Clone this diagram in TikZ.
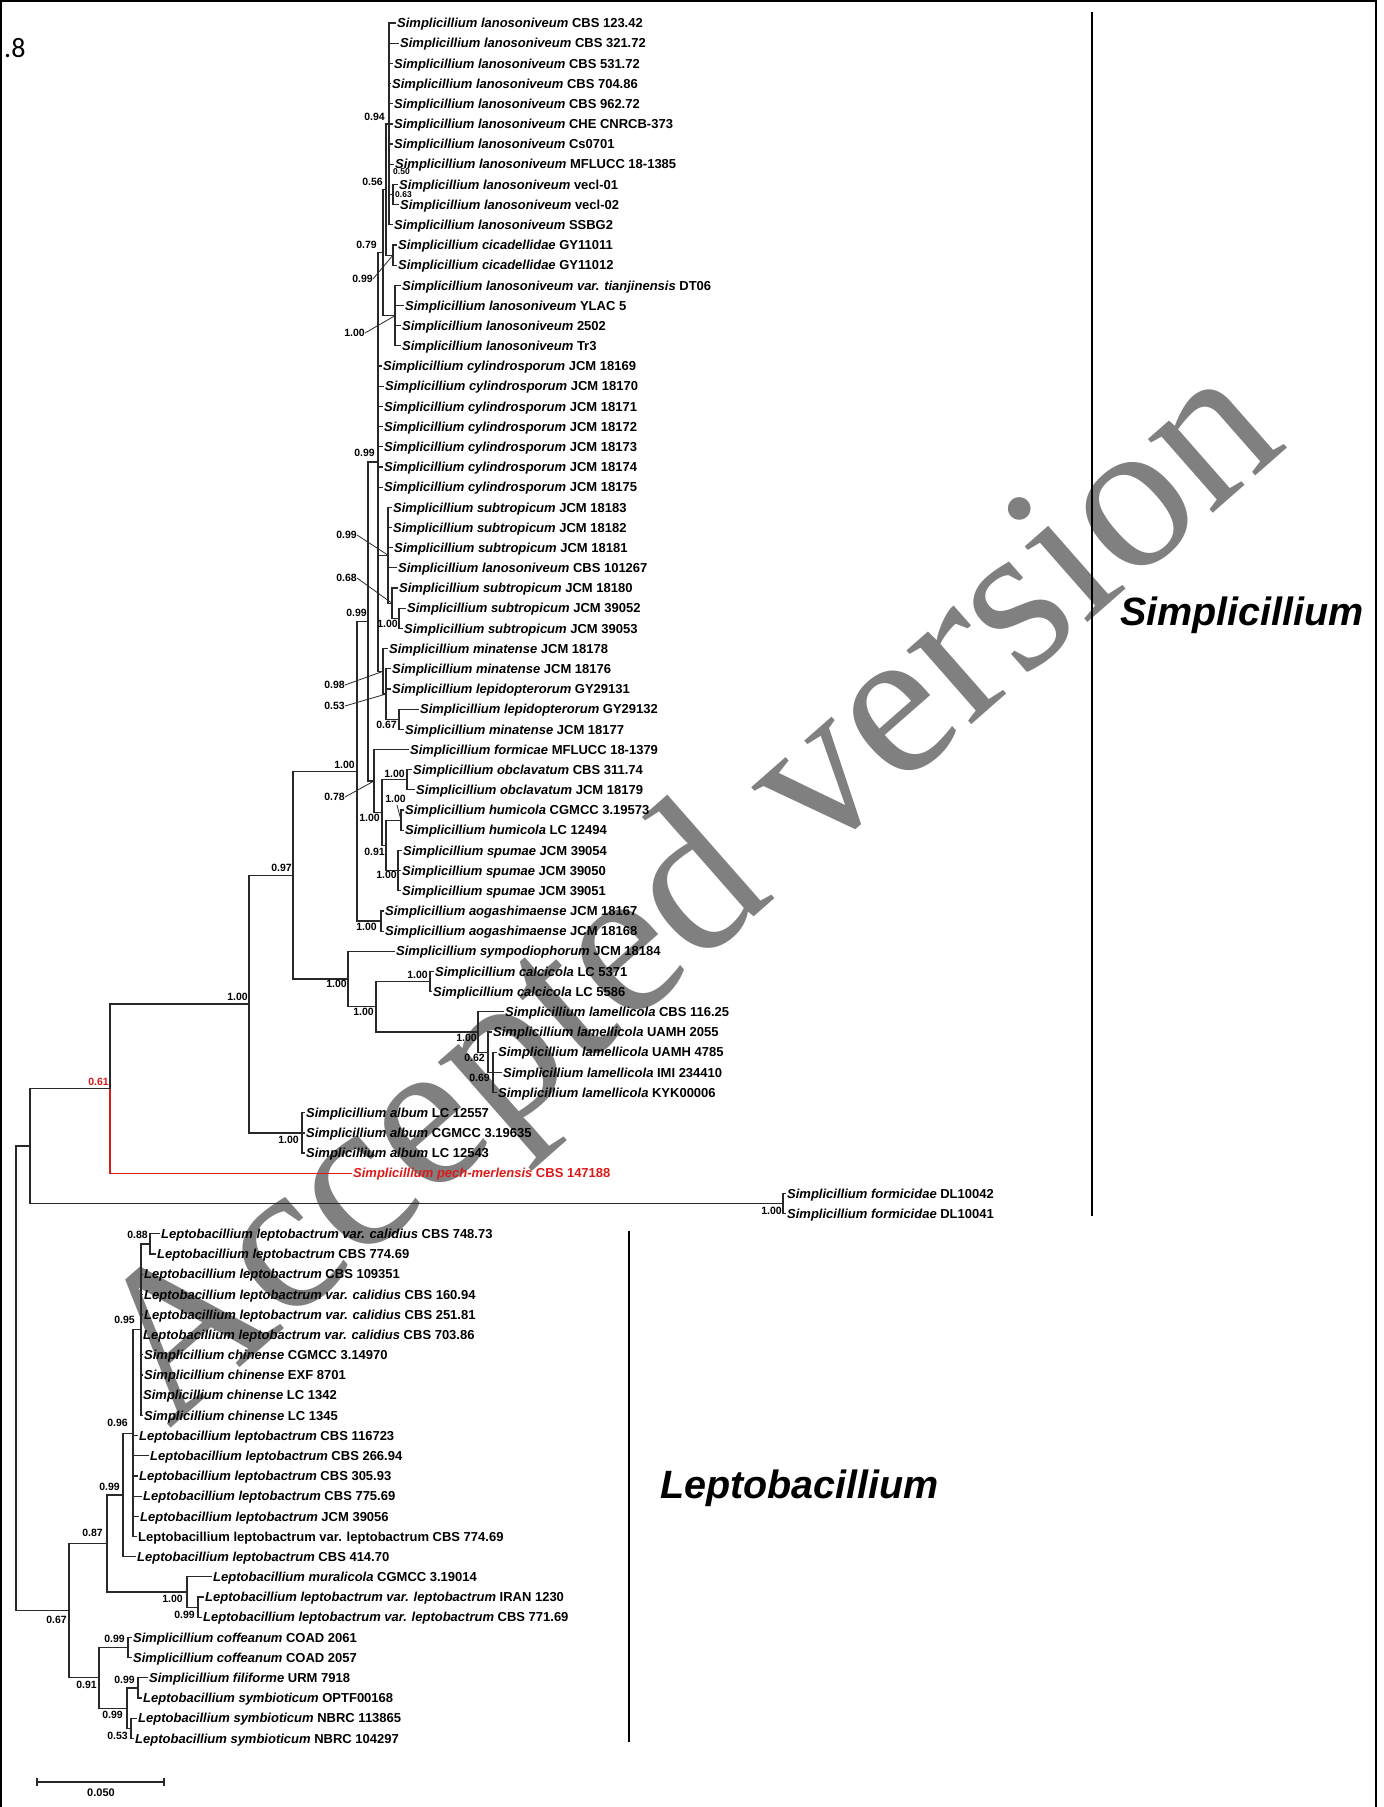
\documentclass[tikz,border=0pt]{standalone}
\usepackage{fontspec}
\setmainfont{Liberation Sans}
\newfontfamily\wmfont{Liberation Serif}
\newfontfamily\calfont{Carlito}
\newcommand{\ry}[1]{2.82+#1*20.18}
\definecolor{brc}{RGB}{40,40,40}
\definecolor{redc}{RGB}{220,25,25}
\begin{document}
\begin{tikzpicture}[x=1pt,y=-1pt,
  br/.style={draw=brc,line width=1.2pt},
  bar/.style={draw=black,line width=2.2pt},
  tip/.style={anchor=west,inner xsep=1.5pt,inner ysep=0pt,text height=9.4pt,text depth=0pt,font=\fontsize{13}{15}\selectfont\bfseries},
  bs/.style={anchor=east,inner sep=0pt,text height=7.6pt,text depth=0pt,font=\fontsize{10.5}{12}\selectfont\bfseries},
  bsl/.style={anchor=west,inner sep=0pt,text height=6pt,text depth=0pt,font=\fontsize{8.5}{10}\selectfont\bfseries},
  ld/.style={draw=brc,line width=0.8pt},
  clade/.style={anchor=west,inner sep=0pt,text height=28.3pt,text depth=0pt,font=\fontsize{39.5}{44}\selectfont\bfseries\itshape}]
\useasboundingbox (0,0) rectangle (1384,1807);
\fill[white] (0,0) rectangle (1384,1807);
% watermark
\node[text=black!50,font=\fontsize{214}{230}\wmfont,rotate=41.3,inner sep=0pt] (wm) at (696,899) {Accepted version};
% frame
\draw[line width=1.8pt] (1,1807) -- (1,1) -- (1376,1) -- (1376,1807);
\node[anchor=west,inner sep=0pt,font=\fontsize{28}{30}\calfont] (fig) at (4,48) {.8};
% ---------- Simplicillium tips ----------
\node[tip] (t1) at (395.5,{\ry{1}}) {\textit{Simplicillium lanosoniveum} CBS 123.42};
\node[tip] (t2) at (398.5,{\ry{2}}) {\textit{Simplicillium lanosoniveum} CBS 321.72};
\node[tip] (t3) at (392.5,{\ry{3}}) {\textit{Simplicillium lanosoniveum} CBS 531.72};
\node[tip] (t4) at (390.5,{\ry{4}}) {\textit{Simplicillium lanosoniveum} CBS 704.86};
\node[tip] (t5) at (392.5,{\ry{5}}) {\textit{Simplicillium lanosoniveum} CBS 962.72};
\node[tip] (t6) at (392.5,{\ry{6}}) {\textit{Simplicillium lanosoniveum} CHE CNRCB-373};
\node[tip] (t7) at (392.5,{\ry{7}}) {\textit{Simplicillium lanosoniveum} Cs0701};
\node[tip] (t8) at (393.5,{\ry{8}}) {\textit{Simplicillium lanosoniveum} MFLUCC 18-1385};
\node[tip] (t9) at (397.5,{\ry{9}}) {\textit{Simplicillium lanosoniveum} vecl-01};
\node[tip] (t10) at (398.5,{\ry{10}}) {\textit{Simplicillium lanosoniveum} vecl-02};
\node[tip] (t11) at (392.5,{\ry{11}}) {\textit{Simplicillium lanosoniveum} SSBG2};
\node[tip] (t12) at (396.5,{\ry{12}}) {\textit{Simplicillium cicadellidae} GY11011};
\node[tip] (t13) at (396.5,{\ry{13}}) {\textit{Simplicillium cicadellidae} GY11012};
\node[tip] (t14) at (400.5,{\ry{14}}) {\textit{Simplicillium lanosoniveum var. tianjinensis} DT06};
\node[tip] (t15) at (403.5,{\ry{15}}) {\textit{Simplicillium lanosoniveum} YLAC 5};
\node[tip] (t16) at (400.5,{\ry{16}}) {\textit{Simplicillium lanosoniveum} 2502};
\node[tip] (t17) at (400.5,{\ry{17}}) {\textit{Simplicillium lanosoniveum} Tr3};
\node[tip] (t18) at (381.5,{\ry{18}}) {\textit{Simplicillium cylindrosporum} JCM 18169};
\node[tip] (t19) at (383.5,{\ry{19}}) {\textit{Simplicillium cylindrosporum} JCM 18170};
\node[tip] (t20) at (382.5,{\ry{20}}) {\textit{Simplicillium cylindrosporum} JCM 18171};
\node[tip] (t21) at (382.5,{\ry{21}}) {\textit{Simplicillium cylindrosporum} JCM 18172};
\node[tip] (t22) at (382.5,{\ry{22}}) {\textit{Simplicillium cylindrosporum} JCM 18173};
\node[tip] (t23) at (382.5,{\ry{23}}) {\textit{Simplicillium cylindrosporum} JCM 18174};
\node[tip] (t24) at (382.5,{\ry{24}}) {\textit{Simplicillium cylindrosporum} JCM 18175};
\node[tip] (t25) at (391.5,{\ry{25}}) {\textit{Simplicillium subtropicum} JCM 18183};
\node[tip] (t26) at (391.5,{\ry{26}}) {\textit{Simplicillium subtropicum} JCM 18182};
\node[tip] (t27) at (392.5,{\ry{27}}) {\textit{Simplicillium subtropicum} JCM 18181};
\node[tip] (t28) at (396.5,{\ry{28}}) {\textit{Simplicillium lanosoniveum} CBS 101267};
\node[tip] (t29) at (397.5,{\ry{29}}) {\textit{Simplicillium subtropicum} JCM 18180};
\node[tip] (t30) at (405.5,{\ry{30}}) {\textit{Simplicillium subtropicum} JCM 39052};
\node[tip] (t31) at (402.5,{\ry{31}}) {\textit{Simplicillium subtropicum} JCM 39053};
\node[tip] (t32) at (387.5,{\ry{32}}) {\textit{Simplicillium minatense} JCM 18178};
\node[tip] (t33) at (390.5,{\ry{33}}) {\textit{Simplicillium minatense} JCM 18176};
\node[tip] (t34) at (390.5,{\ry{34}}) {\textit{Simplicillium lepidopterorum} GY29131};
\node[tip] (t35) at (418.5,{\ry{35}}) {\textit{Simplicillium lepidopterorum} GY29132};
\node[tip] (t36) at (403.5,{\ry{36}}) {\textit{Simplicillium minatense} JCM 18177};
\node[tip] (t37) at (408.5,{\ry{37}}) {\textit{Simplicillium formicae} MFLUCC 18-1379};
\node[tip] (t38) at (411.5,{\ry{38}}) {\textit{Simplicillium obclavatum} CBS 311.74};
\node[tip] (t39) at (414.5,{\ry{39}}) {\textit{Simplicillium obclavatum} JCM 18179};
\node[tip] (t40) at (403.5,{\ry{40}}) {\textit{Simplicillium humicola} CGMCC 3.19573};
\node[tip] (t41) at (403.5,{\ry{41}}) {\textit{Simplicillium humicola} LC 12494};
\node[tip] (t42) at (401.5,{\ry{42}}) {\textit{Simplicillium spumae} JCM 39054};
\node[tip] (t43) at (400.5,{\ry{43}}) {\textit{Simplicillium spumae} JCM 39050};
\node[tip] (t44) at (400.5,{\ry{44}}) {\textit{Simplicillium spumae} JCM 39051};
\node[tip] (t45) at (383.5,{\ry{45}}) {\textit{Simplicillium aogashimaense} JCM 18167};
\node[tip] (t46) at (383.5,{\ry{46}}) {\textit{Simplicillium aogashimaense} JCM 18168};
\node[tip] (t47) at (394.5,{\ry{47}}) {\textit{Simplicillium sympodiophorum} JCM 18184};
\node[tip] (t48) at (433.5,{\ry{48}}) {\textit{Simplicillium calcicola} LC 5371};
\node[tip] (t49) at (431.5,{\ry{49}}) {\textit{Simplicillium calcicola} LC 5586};
\node[tip] (t50) at (503.5,{\ry{50}}) {\textit{Simplicillium lamellicola} CBS 116.25};
\node[tip] (t51) at (491.5,{\ry{51}}) {\textit{Simplicillium lamellicola} UAMH 2055};
\node[tip] (t52) at (496.5,{\ry{52}}) {\textit{Simplicillium lamellicola} UAMH 4785};
\node[tip] (t53) at (501.5,{\ry{53}}) {\textit{Simplicillium lamellicola} IMI 234410};
\node[tip] (t54) at (496.5,{\ry{54}}) {\textit{Simplicillium lamellicola} KYK00006};
\node[tip] (t55) at (304.5,{\ry{55}}) {\textit{Simplicillium album} LC 12557};
\node[tip] (t56) at (304.5,{\ry{56}}) {\textit{Simplicillium album} CGMCC 3.19635};
\node[tip] (t57) at (304.5,{\ry{57}}) {\textit{Simplicillium album} LC 12543};
\node[tip,text=redc] (t58) at (351.5,{\ry{58}}) {\textit{Simplicillium pech-merlensis} CBS 147188};
\node[tip] (t59) at (785.5,{\ry{59}}) {\textit{Simplicillium formicidae} DL10042};
\node[tip] (t60) at (785.5,{\ry{60}}) {\textit{Simplicillium formicidae} DL10041};
% ---------- Leptobacillium tips ----------
\node[tip] (t61) at (159.5,{\ry{61}}) {\textit{Leptobacillium leptobactrum var. calidius} CBS 748.73};
\node[tip] (t62) at (155.5,{\ry{62}}) {\textit{Leptobacillium leptobactrum} CBS 774.69};
\node[tip] (t63) at (142.5,{\ry{63}}) {\textit{Leptobacillium leptobactrum} CBS 109351};
\node[tip] (t64) at (142.5,{\ry{64}}) {\textit{Leptobacillium leptobactrum var. calidius} CBS 160.94};
\node[tip] (t65) at (142.5,{\ry{65}}) {\textit{Leptobacillium leptobactrum var. calidius} CBS 251.81};
\node[tip] (t66) at (141.5,{\ry{66}}) {\textit{Leptobacillium leptobactrum var. calidius} CBS 703.86};
\node[tip] (t67) at (142.5,{\ry{67}}) {\textit{Simplicillium chinense} CGMCC 3.14970};
\node[tip] (t68) at (142.5,{\ry{68}}) {\textit{Simplicillium chinense} EXF 8701};
\node[tip] (t69) at (141.5,{\ry{69}}) {\textit{Simplicillium chinense} LC 1342};
\node[tip] (t70) at (142.5,{\ry{70}}) {\textit{Simplicillium chinense} LC 1345};
\node[tip] (t71) at (137.5,{\ry{71}}) {\textit{Leptobacillium leptobactrum} CBS 116723};
\node[tip] (t72) at (148.5,{\ry{72}}) {\textit{Leptobacillium leptobactrum} CBS 266.94};
\node[tip] (t73) at (137.5,{\ry{73}}) {\textit{Leptobacillium leptobactrum} CBS 305.93};
\node[tip] (t74) at (141.5,{\ry{74}}) {\textit{Leptobacillium leptobactrum} CBS 775.69};
\node[tip] (t75) at (138.5,{\ry{75}}) {\textit{Leptobacillium leptobactrum} JCM 39056};
\node[tip] (t76) at (136.5,{\ry{76}}) {Leptobacillium leptobactrum var. leptobactrum CBS 774.69};
\node[tip] (t77) at (135.5,{\ry{77}}) {\textit{Leptobacillium leptobactrum} CBS 414.70};
\node[tip] (t78) at (211.5,{\ry{78}}) {\textit{Leptobacillium muralicola} CGMCC 3.19014};
\node[tip] (t79) at (203.5,{\ry{79}}) {\textit{Leptobacillium leptobactrum var. leptobactrum} IRAN 1230};
\node[tip] (t80) at (201.5,{\ry{80}}) {\textit{Leptobacillium leptobactrum var. leptobactrum} CBS 771.69};
\node[tip] (t81) at (131.5,{\ry{81}}) {\textit{Simplicillium coffeanum} COAD 2061};
\node[tip] (t82) at (131.5,{\ry{82}}) {\textit{Simplicillium coffeanum} COAD 2057};
\node[tip] (t83) at (147.5,{\ry{83}}) {\textit{Simplicillium filiforme} URM 7918};
\node[tip] (t84) at (141.5,{\ry{84}}) {\textit{Leptobacillium symbioticum} OPTF00168};
\node[tip] (t85) at (136.5,{\ry{85}}) {\textit{Leptobacillium symbioticum} NBRC 113865};
\node[tip] (t86) at (133.5,{\ry{86}}) {\textit{Leptobacillium symbioticum} NBRC 104297};
% ---------- internal nodes ----------
\coordinate (N) at (389,124);
\coordinate (vecl) at (393,194.5);
\coordinate (cic) at (393,255.1);
\coordinate (L) at (395,315.7);
\coordinate (O) at (386,189.5);
\coordinate (P) at (383,252.6);
\coordinate (R) at (378,462);
\coordinate (S) at (388,555.2);
\coordinate (n068) at (392,603.2);
\coordinate (n100) at (399,618.3);
\coordinate (T1) at (383,671.3);
\coordinate (T2) at (386,694);
\coordinate (n067) at (399,719.2);
\coordinate (K) at (368,621.5);
\coordinate (n078) at (374,781);
\coordinate (H) at (382,812.6);
\coordinate (obcl) at (407,779.8);
\coordinate (n091) at (386,845.4);
\coordinate (hum) at (401,820.1);
\coordinate (spu) at (398,870.6);
\coordinate (G) at (357,771.3);
\coordinate (aog) at (381,921);
\coordinate (E) at (348,979);
\coordinate (F) at (376,1006.8);
\coordinate (calc) at (430,981.6);
\coordinate (lam) at (478,1032);
\coordinate (n062) at (488,1052.2);
\coordinate (n069) at (493,1072.4);
\coordinate (D) at (293,875.2);
\coordinate (alb) at (302,1132.9);
\coordinate (C) at (249,1004);
\coordinate (B) at (110,1088.6);
\coordinate (form) at (783,1203.5);
\coordinate (A) at (30,1146);
\coordinate (root) at (16,1378);
\coordinate (n088) at (150,1243.9);
\coordinate (n095) at (141,1329.7);
\coordinate (n096) at (133,1433.1);
\coordinate (n099a) at (123,1494.9);
\coordinate (mur) at (187,1592);
\coordinate (n099m) at (198,1607.2);
\coordinate (n087) at (107,1543.5);
\coordinate (cof) at (128,1647.5);
\coordinate (fil) at (138,1687.9);
\coordinate (n053) at (131,1728.3);
\coordinate (n099b) at (127,1708.1);
\coordinate (n091L) at (99,1677.8);
\coordinate (n067L) at (69,1610.7);
% ---------- branches ----------
\foreach \c in {1,...,8,11} \draw[br] (N) |- (t\c.west);
\draw[br] (N) |- (vecl);
\foreach \c in {9,10} \draw[br] (vecl) |- (t\c.west);
\foreach \c in {12,13} \draw[br] (cic) |- (t\c.west);
\foreach \c in {14,...,17} \draw[br] (L) |- (t\c.west);
\draw[br] (O) |- (N); \draw[br] (O) |- (cic);
\draw[br] (P) |- (O); \draw[br] (P) |- (L);
\draw[br] (R) |- (P);
\foreach \c in {18,...,24} \draw[br] (R) |- (t\c.west);
\draw[br] (R) |- (S); \draw[br] (R) |- (T1);
\foreach \c in {25,...,28} \draw[br] (S) |- (t\c.west);
\draw[br] (S) |- (n068);
\draw[br] (n068) |- (t29.west); \draw[br] (n068) |- (n100);
\foreach \c in {30,31} \draw[br] (n100) |- (t\c.west);
\draw[br] (T1) |- (t32.west); \draw[br] (T1) |- (T2);
\foreach \c in {33,34} \draw[br] (T2) |- (t\c.west);
\draw[br] (T2) |- (n067);
\foreach \c in {35,36} \draw[br] (n067) |- (t\c.west);
\draw[br] (K) |- (R); \draw[br] (K) |- (n078);
\draw[br] (n078) |- (t37.west); \draw[br] (n078) |- (H);
\draw[br] (H) |- (obcl); \draw[br] (H) |- (n091);
\foreach \c in {38,39} \draw[br] (obcl) |- (t\c.west);
\draw[br] (n091) |- (hum); \draw[br] (n091) |- (spu);
\foreach \c in {40,41} \draw[br] (hum) |- (t\c.west);
\foreach \c in {42,43,44} \draw[br] (spu) |- (t\c.west);
\draw[br] (G) |- (K); \draw[br] (G) |- (aog);
\foreach \c in {45,46} \draw[br] (aog) |- (t\c.west);
\draw[br] (D) |- (G); \draw[br] (D) |- (E);
\draw[br] (E) |- (t47.west); \draw[br] (E) |- (F);
\draw[br] (F) |- (calc); \draw[br] (F) |- (lam);
\foreach \c in {48,49} \draw[br] (calc) |- (t\c.west);
\draw[br] (lam) |- (t50.west); \draw[br] (lam) |- (n062);
\draw[br] (n062) |- (t51.west); \draw[br] (n062) |- (n069);
\foreach \c in {52,53,54} \draw[br] (n069) |- (t\c.west);
\draw[br] (C) |- (D); \draw[br] (C) |- (alb);
\foreach \c in {55,56,57} \draw[br] (alb) |- (t\c.west);
\draw[br] (B) |- (C);
\draw[br,draw=redc] (B) |- (t58.west);
\draw[br] (A) |- (B); \draw[br] (A) |- (form);
\foreach \c in {59,60} \draw[br] (form) |- (t\c.west);
\draw[br] (root) |- (A); \draw[br] (root) |- (n067L);
\draw[br] (n067L) |- (n087); \draw[br] (n067L) |- (n091L);
\draw[br] (n087) |- (n099a); \draw[br] (n087) |- (mur);
\draw[br] (n099a) |- (n096); \draw[br] (n099a) |- (t77.west);
\draw[br] (n096) |- (n095);
\foreach \c in {71,...,76} \draw[br] (n096) |- (t\c.west);
\draw[br] (n095) |- (n088);
\foreach \c in {63,...,70} \draw[br] (n095) |- (t\c.west);
\foreach \c in {61,62} \draw[br] (n088) |- (t\c.west);
\draw[br] (mur) |- (t78.west); \draw[br] (mur) |- (n099m);
\foreach \c in {79,80} \draw[br] (n099m) |- (t\c.west);
\draw[br] (n091L) |- (cof); \draw[br] (n091L) |- (n099b);
\foreach \c in {81,82} \draw[br] (cof) |- (t\c.west);
\draw[br] (n099b) |- (fil); \draw[br] (n099b) |- (n053);
\foreach \c in {83,84} \draw[br] (fil) |- (t\c.west);
\foreach \c in {85,86} \draw[br] (n053) |- (t\c.west);
% ---------- support values ----------
\node[bs] (sN) at (385,117) {0.94};
\node[bs] (sO) at (383,182) {0.56};
\node[bsl] (sV1) at (393,171) {0.50};
\node[bsl] (sV2) at (395,194) {0.63};
\node[bs] (sP) at (377,245) {0.79};
\node[bs] (sC1) at (373,279) {0.99};
\draw[ld] (sC1.east) -- (cic);
\node[bs] (sL) at (365,333) {1.00};
\draw[ld] (sL.east) -- (L);
\node[bs] (sR) at (375,453) {0.99};
\node[bs] (sS) at (357,535) {0.99};
\draw[ld] (sS.east) -- (S);
\node[bs] (s68) at (357,578) {0.68};
\draw[ld] (s68.east) -- (n068);
\node[bs] (sK) at (367,613) {0.99};
\node[bs] (s100) at (398,624) {1.00};
\node[bs] (sT1) at (345,685) {0.98};
\draw[ld] (sT1.east) -- (T1);
\node[bs] (sT2) at (345,706) {0.53};
\draw[ld] (sT2.east) -- (T2);
\node[bs] (s67) at (397,725) {0.67};
\node[bs] (sG) at (355,765) {1.00};
\node[bs] (s78) at (345,797) {0.78};
\draw[ld] (s78.east) -- (n078);
\node[bs] (sob) at (405,774) {1.00};
\node[bs] (shu) at (406,799) {1.00};
\coordinate (hl) at (397,805);
\draw[ld] (hl) -- (hum);
\node[bs] (sH) at (380,818) {1.00};
\node[bs] (s91) at (385,852) {0.91};
\node[bs] (ssp) at (397,875) {1.00};
\node[bs] (sag) at (377,927) {1.00};
\node[bs] (sD) at (292,868) {0.97};
\node[bs] (sE) at (347,984) {1.00};
\node[bs] (sF) at (374,1012) {1.00};
\node[bs] (sca) at (428,975) {1.00};
\node[bs] (sla) at (477,1038) {1.00};
\node[bs] (s62) at (485,1058) {0.62};
\node[bs] (s69) at (490,1078) {0.69};
\node[bs] (sCC) at (248,997) {1.00};
\node[bs] (sal) at (299,1140) {1.00};
\node[bs,text=redc] (sB) at (109,1082) {0.61};
\node[bs] (sfo) at (782,1211) {1.00};
\node[bs] (s88) at (148,1235) {0.88};
\node[bs] (s95) at (135,1320) {0.95};
\node[bs] (s96) at (128,1423) {0.96};
\node[bs] (s99a) at (120,1487) {0.99};
\node[bs] (s87) at (103,1533) {0.87};
\node[bs] (smu) at (183,1599) {1.00};
\node[bs] (s99m) at (195,1615) {0.99};
\node[bs] (s67L) at (67,1620) {0.67};
\node[bs] (scof) at (125,1639) {0.99};
\node[bs] (s91L) at (97,1685) {0.91};
\node[bs] (sfil) at (135,1680) {0.99};
\node[bs] (s99b) at (123,1715) {0.99};
\node[bs] (s53) at (128,1736) {0.53};
% ---------- clade bars ----------
\coordinate (sb1) at (1092,12);
\coordinate (sb2) at (1092,1216);
\draw[bar] (sb1) -- (sb2);
\node[clade] (simpl) at (1120,611) {Simplicillium};
\coordinate (lb1) at (629,1231);
\coordinate (lb2) at (629,1742);
\draw[bar] (lb1) -- (lb2);
\node[clade] (lepto) at (660,1484) {Leptobacillium};
% ---------- scale bar ----------
\coordinate (sc1) at (37,1782);
\coordinate (sc2) at (164,1782);
\draw[br] (sc1) -- (sc2);
\draw[br] ([yshift=-4pt]sc1) -- ([yshift=4pt]sc1);
\draw[br] ([yshift=-4pt]sc2) -- ([yshift=4pt]sc2);
\node[anchor=center,inner sep=0pt,font=\fontsize{11}{12}\selectfont\bfseries] (sclab) at (101,1793) {0.050};
\end{tikzpicture}
\end{document}
